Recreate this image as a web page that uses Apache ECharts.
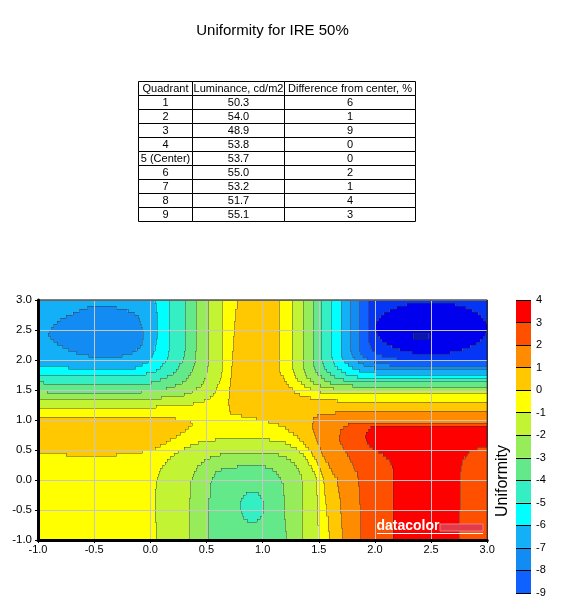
<!DOCTYPE html>
<html>
<head>
<meta charset="utf-8">
<title>Uniformity for IRE 50%</title>
<script src="https://cdn.jsdelivr.net/npm/echarts@6/dist/echarts.min.js"></script>
<style>
  html, body { margin: 0; padding: 0; background: #fff; }
  #chart { width: 570px; height: 601px; }
</style>
</head>
<body>
<div id="chart"></div>
<script>
// table above the map
const quadrants = ['1', '2', '3', '4', '5 (Center)', '6', '7', '8', '9']
const luminance = [50.3, 54.0, 48.9, 53.8, 53.7, 55.0, 53.2, 51.7, 55.1]
const diffFromCenter = [6, 1, 9, 0, 0, 2, 1, 4, 3]
const tableHead = ['Quadrant', 'Luminance, cd/m2', 'Difference from center, %']

// contour levels (each band is [level, level + 1)) and the levels shown on the colour bar
const levels = [-12, -11, -10, -9, -8, -7, -6, -5, -4, -3, -2, -1, 0, 1, 2, 3]
const levelColors = ['#0a16b0', '#0000ee', '#0536f5', '#0f62ff', '#128cf2', '#14b0f7', '#00ffff', '#35efc4',
  '#63e98a', '#97ec5a', '#c3f434', '#ffff00', '#ffc800', '#ff8c00', '#ff5000', '#ff0000']
const barLevels = [-9, -8, -7, -6, -5, -4, -3, -2, -1, 0, 1, 2, 3]

// uniformity map, one strip every 0.05 in y:
// [y, [level, x where it changes, level, x, ..., level]]  (runs go from x = -1 to x = 3)
const rows = [
  [2.975, [-7, 0.04, -6, 0.17, -5, 0.31, -4, 0.41, -3, 0.52, -2, 0.64, -1, 0.77, 0, 1.15, -1, 1.26, -2, 1.36, -3, 1.45, -4, 1.52, -5, 1.61, -6, 1.70, -7, 1.78, -8, 1.86, -9, 1.94, -10]],
  [2.925, [-7, 0.05, -6, 0.17, -5, 0.31, -4, 0.41, -3, 0.52, -2, 0.64, -1, 0.77, 0, 1.15, -1, 1.26, -2, 1.36, -3, 1.45, -4, 1.52, -5, 1.61, -6, 1.70, -7, 1.78, -8, 1.86, -9, 1.94, -10, 2.28, -11, 2.72, -10]],
  [2.875, [-7, -0.56, -8, -0.30, -7, 0.05, -6, 0.17, -5, 0.31, -4, 0.41, -3, 0.52, -2, 0.64, -1, 0.77, 0, 1.15, -1, 1.26, -2, 1.36, -3, 1.45, -4, 1.52, -5, 1.61, -6, 1.70, -7, 1.78, -8, 1.86, -9, 1.94, -10, 2.19, -11, 2.81, -10]],
  [2.825, [-7, -0.63, -8, -0.20, -7, 0.05, -6, 0.17, -5, 0.31, -4, 0.41, -3, 0.52, -2, 0.64, -1, 0.76, 0, 1.15, -1, 1.26, -2, 1.36, -3, 1.45, -4, 1.52, -5, 1.61, -6, 1.70, -7, 1.78, -8, 1.86, -9, 1.94, -10, 2.13, -11, 2.87, -10]],
  [2.775, [-7, -0.69, -8, -0.14, -7, 0.06, -6, 0.17, -5, 0.31, -4, 0.41, -3, 0.52, -2, 0.64, -1, 0.76, 0, 1.15, -1, 1.26, -2, 1.36, -3, 1.45, -4, 1.52, -5, 1.61, -6, 1.70, -7, 1.78, -8, 1.86, -9, 1.94, -10, 2.08, -11, 2.92, -10]],
  [2.725, [-7, -0.75, -8, -0.11, -7, 0.06, -6, 0.17, -5, 0.31, -4, 0.41, -3, 0.52, -2, 0.64, -1, 0.76, 0, 1.15, -1, 1.26, -2, 1.36, -3, 1.45, -4, 1.52, -5, 1.61, -6, 1.70, -7, 1.78, -8, 1.86, -9, 1.94, -10, 2.05, -11, 2.95, -10]],
  [2.675, [-7, -0.80, -8, -0.10, -7, 0.06, -6, 0.17, -5, 0.31, -4, 0.41, -3, 0.52, -2, 0.64, -1, 0.76, 0, 1.15, -1, 1.26, -2, 1.36, -3, 1.45, -4, 1.52, -5, 1.61, -6, 1.70, -7, 1.78, -8, 1.86, -9, 1.94, -10, 2.03, -11, 2.97, -10]],
  [2.625, [-7, -0.83, -8, -0.09, -7, 0.06, -6, 0.17, -5, 0.31, -4, 0.41, -3, 0.52, -2, 0.64, -1, 0.75, 0, 1.15, -1, 1.26, -2, 1.36, -3, 1.45, -4, 1.52, -5, 1.61, -6, 1.70, -7, 1.78, -8, 1.86, -9, 1.94, -10, 2.01, -11, 2.99, -10]],
  [2.575, [-7, -0.86, -8, -0.08, -7, 0.06, -6, 0.17, -5, 0.31, -4, 0.41, -3, 0.52, -2, 0.64, -1, 0.75, 0, 1.15, -1, 1.26, -2, 1.36, -3, 1.45, -4, 1.52, -5, 1.61, -6, 1.70, -7, 1.78, -8, 1.86, -9, 1.94, -10, 2.00, -11]],
  [2.525, [-7, -0.88, -8, -0.07, -7, 0.06, -6, 0.17, -5, 0.31, -4, 0.41, -3, 0.52, -2, 0.64, -1, 0.75, 0, 1.15, -1, 1.26, -2, 1.36, -3, 1.45, -4, 1.52, -5, 1.61, -6, 1.70, -7, 1.78, -8, 1.86, -9, 1.94, -10, 2.00, -11]],
  [2.475, [-7, -0.90, -8, -0.06, -7, 0.06, -6, 0.17, -5, 0.31, -4, 0.41, -3, 0.52, -2, 0.64, -1, 0.75, 0, 1.15, -1, 1.26, -2, 1.36, -3, 1.45, -4, 1.52, -5, 1.61, -6, 1.70, -7, 1.78, -8, 1.86, -9, 1.94, -10, 2.01, -11, 2.99, -10]],
  [2.425, [-7, -0.91, -8, -0.06, -7, 0.06, -6, 0.17, -5, 0.31, -4, 0.41, -3, 0.52, -2, 0.64, -1, 0.75, 0, 1.15, -1, 1.26, -2, 1.36, -3, 1.45, -4, 1.52, -5, 1.61, -6, 1.70, -7, 1.78, -8, 1.86, -9, 1.94, -10, 2.02, -11, 2.34, -12, 2.48, -11, 2.98, -10]],
  [2.375, [-7, -0.89, -8, -0.06, -7, 0.06, -6, 0.17, -5, 0.31, -4, 0.41, -3, 0.52, -2, 0.64, -1, 0.74, 0, 1.15, -1, 1.26, -2, 1.36, -3, 1.45, -4, 1.52, -5, 1.61, -6, 1.70, -7, 1.78, -8, 1.86, -9, 1.94, -10, 2.04, -11, 2.34, -12, 2.48, -11, 2.97, -10]],
  [2.325, [-7, -0.86, -8, -0.07, -7, 0.05, -6, 0.17, -5, 0.31, -4, 0.41, -3, 0.52, -2, 0.64, -1, 0.74, 0, 1.15, -1, 1.26, -2, 1.36, -3, 1.45, -4, 1.52, -5, 1.61, -6, 1.70, -7, 1.78, -8, 1.86, -9, 1.94, -10, 2.06, -11, 2.94, -10]],
  [2.275, [-7, -0.83, -8, -0.07, -7, 0.05, -6, 0.17, -5, 0.31, -4, 0.41, -3, 0.52, -2, 0.64, -1, 0.74, 0, 1.15, -1, 1.26, -2, 1.36, -3, 1.45, -4, 1.52, -5, 1.61, -6, 1.70, -7, 1.78, -8, 1.86, -9, 1.95, -10, 2.10, -11, 2.90, -10]],
  [2.225, [-7, -0.78, -8, -0.09, -7, 0.04, -6, 0.17, -5, 0.31, -4, 0.41, -3, 0.52, -2, 0.64, -1, 0.74, 0, 1.15, -1, 1.26, -2, 1.36, -3, 1.45, -4, 1.52, -5, 1.61, -6, 1.70, -7, 1.78, -8, 1.86, -9, 1.96, -10, 2.15, -11, 2.85, -10]],
  [2.175, [-7, -0.73, -8, -0.12, -7, 0.04, -6, 0.17, -5, 0.31, -4, 0.41, -3, 0.52, -2, 0.64, -1, 0.74, 0, 1.15, -1, 1.26, -2, 1.36, -3, 1.45, -4, 1.52, -5, 1.61, -6, 1.70, -7, 1.78, -8, 1.86, -9, 1.97, -10, 2.22, -11, 2.78, -10]],
  [2.125, [-7, -0.66, -8, -0.16, -7, 0.03, -6, 0.16, -5, 0.30, -4, 0.40, -3, 0.52, -2, 0.64, -1, 0.73, 0, 1.15, -1, 1.26, -2, 1.36, -3, 1.45, -4, 1.52, -5, 1.61, -6, 1.70, -7, 1.79, -8, 1.87, -9, 2.00, -10, 2.33, -11, 2.67, -10]],
  [2.075, [-7, -0.55, -8, -0.25, -7, 0.02, -6, 0.16, -5, 0.30, -4, 0.40, -3, 0.52, -2, 0.64, -1, 0.73, 0, 1.15, -1, 1.26, -2, 1.36, -3, 1.45, -4, 1.52, -5, 1.61, -6, 1.70, -7, 1.80, -8, 1.89, -9, 2.06, -10]],
  [2.025, [-7, 0.00, -6, 0.15, -5, 0.29, -4, 0.40, -3, 0.52, -2, 0.64, -1, 0.73, 0, 1.15, -1, 1.26, -2, 1.36, -3, 1.45, -4, 1.52, -5, 1.62, -6, 1.71, -7, 1.82, -8, 1.93, -9, 2.19, -10]],
  [1.975, [-7, -0.02, -6, 0.13, -5, 0.28, -4, 0.40, -3, 0.52, -2, 0.64, -1, 0.73, 0, 1.15, -1, 1.26, -2, 1.36, -3, 1.45, -4, 1.53, -5, 1.63, -6, 1.73, -7, 1.85, -8, 1.99, -9]],
  [1.925, [-7, -0.07, -6, 0.11, -5, 0.26, -4, 0.39, -3, 0.52, -2, 0.64, -1, 0.73, 0, 1.15, -1, 1.26, -2, 1.36, -3, 1.45, -4, 1.54, -5, 1.64, -6, 1.76, -7, 1.90, -8, 2.13, -9]],
  [1.875, [-6, -0.73, -7, -0.13, -6, 0.09, -5, 0.25, -4, 0.38, -3, 0.51, -2, 0.64, -1, 0.72, 0, 1.15, -1, 1.26, -2, 1.36, -3, 1.46, -4, 1.55, -5, 1.66, -6, 1.80, -7, 1.99, -8]],
  [1.825, [-6, 0.05, -5, 0.23, -4, 0.37, -3, 0.51, -2, 0.64, -1, 0.72, 0, 1.15, -1, 1.27, -2, 1.37, -3, 1.47, -4, 1.57, -5, 1.70, -6, 1.86, -7]],
  [1.775, [-6, -0.04, -5, 0.20, -4, 0.36, -3, 0.50, -2, 0.63, -1, 0.72, 0, 1.16, -1, 1.28, -2, 1.38, -3, 1.49, -4, 1.60, -5, 1.74, -6, 2.00, -7]],
  [1.725, [-5, 0.15, -4, 0.34, -3, 0.50, -2, 0.63, -1, 0.72, 0, 1.18, -1, 1.29, -2, 1.39, -3, 1.52, -4, 1.64, -5, 1.84, -6]],
  [1.675, [-5, 0.09, -4, 0.32, -3, 0.48, -2, 0.62, -1, 0.71, 0, 1.19, -1, 1.31, -2, 1.42, -3, 1.55, -4, 1.72, -5]],
  [1.625, [-4, -0.95, -5, 0.01, -4, 0.28, -3, 0.47, -2, 0.61, -1, 0.71, 0, 1.21, -1, 1.34, -2, 1.45, -3, 1.60, -4]],
  [1.575, [-4, 0.22, -3, 0.45, -2, 0.60, -1, 0.71, 0, 1.23, -1, 1.37, -2, 1.51, -3, 1.80, -4]],
  [1.525, [-4, 0.14, -3, 0.41, -2, 0.59, -1, 0.70, 0, 1.26, -1, 1.42, -2, 1.63, -3]],
  [1.475, [-3, -0.92, -4, -0.08, -3, 0.37, -2, 0.58, -1, 0.70, 0, 1.28, -1, 1.51, -2]],
  [1.425, [-3, 0.30, -2, 0.56, -1, 0.70, 0, 1.33, -1]],
  [1.375, [-3, 0.10, -2, 0.53, -1, 0.70, 0, 1.42, -1]],
  [1.325, [-2, 0.48, -1, 0.69, 0, 1.66, -1]],
  [1.275, [-2, 0.38, -1, 0.69, 0]],
  [1.225, [-2, 0.05, -1, 0.70, 0]],
  [1.175, [-1, 0.70, 0]],
  [1.125, [-1, 0.71, 0, 1.65, 1]],
  [1.075, [-1, 0.81, 0, 1.49, 1]],
  [1.025, [0, 0.22, -1, 0.94, 0, 1.45, 1]],
  [0.975, [0, 0.36, -1, 1.05, 0, 1.45, 1]],
  [0.925, [0, 0.37, -1, 1.14, 0, 1.44, 1, 1.76, 2]],
  [0.875, [0, 0.34, -1, 1.20, 0, 1.44, 1, 1.72, 2, 1.96, 3]],
  [0.825, [0, 0.31, -1, 1.23, 0, 1.45, 1, 1.69, 2, 1.94, 3]],
  [0.775, [0, 0.27, -1, 1.27, 0, 1.46, 1, 1.69, 2, 1.92, 3]],
  [0.725, [0, 0.23, -1, 1.31, 0, 1.47, 1, 1.68, 2, 1.91, 3]],
  [0.675, [0, 0.18, -1, 0.58, -2, 1.06, -1, 1.33, 0, 1.48, 1, 1.68, 2, 1.92, 3]],
  [0.625, [0, 0.14, -1, 0.43, -2, 1.20, -1, 1.36, 0, 1.49, 1, 1.69, 2, 1.93, 3]],
  [0.575, [0, 0.09, -1, 0.36, -2, 1.25, -1, 1.38, 0, 1.50, 1, 1.71, 2, 1.95, 3]],
  [0.525, [0, 0.04, -1, 0.30, -2, 1.30, -1, 1.41, 0, 1.51, 1, 1.72, 2, 1.98, 3, 2.91, 2]],
  [0.475, [0, -0.07, -1, 0.25, -2, 1.33, -1, 1.43, 0, 1.52, 1, 1.74, 2, 2.03, 3, 2.84, 2]],
  [0.425, [-1, -0.75, 0, -0.30, -1, 0.21, -2, 0.62, -3, 1.14, -2, 1.36, -1, 1.44, 0, 1.53, 1, 1.75, 2, 2.07, 3, 2.82, 2]],
  [0.375, [-1, 0.18, -2, 0.53, -3, 1.21, -2, 1.38, -1, 1.46, 0, 1.55, 1, 1.77, 2, 2.10, 3, 2.80, 2]],
  [0.325, [-1, 0.15, -2, 0.48, -3, 1.25, -2, 1.40, -1, 1.48, 0, 1.56, 1, 1.78, 2, 2.13, 3, 2.78, 2]],
  [0.275, [-1, 0.13, -2, 0.45, -3, 1.28, -2, 1.41, -1, 1.49, 0, 1.58, 1, 1.80, 2, 2.14, 3, 2.78, 2]],
  [0.225, [-1, 0.11, -2, 0.42, -3, 0.77, -4, 1.02, -3, 1.30, -2, 1.43, -1, 1.50, 0, 1.59, 1, 1.81, 2, 2.15, 3, 2.77, 2]],
  [0.175, [-1, 0.09, -2, 0.41, -3, 0.63, -4, 1.09, -3, 1.32, -2, 1.44, -1, 1.51, 0, 1.61, 1, 1.82, 2, 2.16, 3, 2.77, 2]],
  [0.125, [-1, 0.08, -2, 0.39, -3, 0.58, -4, 1.12, -3, 1.33, -2, 1.46, -1, 1.52, 0, 1.62, 1, 1.84, 2, 2.16, 3, 2.76, 2]],
  [0.075, [-1, 0.07, -2, 0.38, -3, 0.57, -4, 1.14, -3, 1.34, -2, 1.47, -1, 1.53, 0, 1.64, 1, 1.84, 2, 2.16, 3, 2.76, 2]],
  [0.025, [-1, 0.06, -2, 0.37, -3, 0.55, -4, 1.16, -3, 1.34, -2, 1.48, -1, 1.54, 0, 1.66, 1, 1.85, 2, 2.16, 3, 2.76, 2]],
  [-0.025, [-1, 0.05, -2, 0.36, -3, 0.54, -4, 1.17, -3, 1.35, -2, 1.48, -1, 1.54, 0, 1.66, 1, 1.85, 2, 2.16, 3, 2.76, 2]],
  [-0.075, [-1, 0.05, -2, 0.36, -3, 0.53, -4, 1.18, -3, 1.35, -2, 1.48, -1, 1.55, 0, 1.66, 1, 1.85, 2, 2.16, 3, 2.76, 2]],
  [-0.125, [-1, 0.05, -2, 0.36, -3, 0.53, -4, 1.18, -3, 1.35, -2, 1.48, -1, 1.55, 0, 1.67, 1, 1.86, 2, 2.16, 3, 2.76, 2]],
  [-0.175, [-1, 0.04, -2, 0.36, -3, 0.53, -4, 1.18, -3, 1.35, -2, 1.48, -1, 1.55, 0, 1.67, 1, 1.86, 2, 2.16, 3, 2.76, 2]],
  [-0.225, [-1, 0.04, -2, 0.36, -3, 0.53, -4, 0.85, -5, 0.96, -4, 1.18, -3, 1.35, -2, 1.48, -1, 1.55, 0, 1.68, 1, 1.86, 2, 2.16, 3, 2.76, 2]],
  [-0.275, [-1, 0.04, -2, 0.36, -3, 0.53, -4, 0.83, -5, 0.98, -4, 1.19, -3, 1.35, -2, 1.49, -1, 1.56, 0, 1.68, 1, 1.86, 2, 2.16, 3, 2.76, 2]],
  [-0.325, [-1, 0.04, -2, 0.35, -3, 0.52, -4, 0.81, -5, 1.00, -4, 1.19, -3, 1.35, -2, 1.49, -1, 1.56, 0, 1.69, 1, 1.86, 2, 2.16, 3, 2.76, 2]],
  [-0.375, [-1, 0.04, -2, 0.35, -3, 0.52, -4, 0.80, -5, 1.01, -4, 1.19, -3, 1.35, -2, 1.49, -1, 1.56, 0, 1.69, 1, 1.86, 2, 2.16, 3, 2.76, 2]],
  [-0.425, [-1, 0.04, -2, 0.35, -3, 0.52, -4, 0.80, -5, 1.01, -4, 1.19, -3, 1.35, -2, 1.49, -1, 1.57, 0, 1.69, 1, 1.87, 2, 2.16, 3, 2.76, 2]],
  [-0.475, [-1, 0.04, -2, 0.35, -3, 0.52, -4, 0.80, -5, 1.01, -4, 1.19, -3, 1.35, -2, 1.49, -1, 1.57, 0, 1.69, 1, 1.87, 2, 2.16, 3, 2.76, 2]],
  [-0.525, [-1, 0.04, -2, 0.35, -3, 0.52, -4, 0.81, -5, 1.01, -4, 1.19, -3, 1.35, -2, 1.49, -1, 1.57, 0, 1.69, 1, 1.87, 2, 2.16, 3, 2.75, 2]],
  [-0.575, [-1, 0.04, -2, 0.35, -3, 0.52, -4, 0.82, -5, 1.00, -4, 1.19, -3, 1.35, -2, 1.49, -1, 1.57, 0, 1.70, 1, 1.87, 2, 2.16, 3, 2.75, 2]],
  [-0.625, [-1, 0.04, -2, 0.35, -3, 0.52, -4, 0.83, -5, 0.98, -4, 1.19, -3, 1.35, -2, 1.49, -1, 1.58, 0, 1.70, 1, 1.87, 2, 2.16, 3, 2.75, 2]],
  [-0.675, [-1, 0.04, -2, 0.35, -3, 0.52, -4, 0.86, -5, 0.95, -4, 1.20, -3, 1.35, -2, 1.49, -1, 1.58, 0, 1.70, 1, 1.87, 2, 2.16, 3, 2.75, 2]],
  [-0.725, [-1, 0.05, -2, 0.35, -3, 0.52, -4, 1.20, -3, 1.35, -2, 1.49, -1, 1.58, 0, 1.70, 1, 1.87, 2, 2.16, 3, 2.75, 2]],
  [-0.775, [-1, 0.05, -2, 0.35, -3, 0.52, -4, 1.20, -3, 1.35, -2, 1.50, -1, 1.58, 0, 1.70, 1, 1.87, 2, 2.16, 3, 2.75, 2]],
  [-0.825, [-1, 0.05, -2, 0.35, -3, 0.52, -4, 1.20, -3, 1.35, -2, 1.50, -1, 1.58, 0, 1.71, 1, 1.87, 2, 2.16, 3, 2.75, 2]],
  [-0.875, [-1, 0.05, -2, 0.35, -3, 0.52, -4, 1.21, -3, 1.35, -2, 1.50, -1, 1.59, 0, 1.71, 1, 1.87, 2, 2.16, 3, 2.75, 2]],
  [-0.925, [-1, 0.05, -2, 0.35, -3, 0.52, -4, 1.21, -3, 1.35, -2, 1.50, -1, 1.59, 0, 1.71, 1, 1.87, 2, 2.16, 3, 2.75, 2]],
  [-0.975, [-1, 0.05, -2, 0.35, -3, 0.52, -4, 1.21, -3, 1.35, -2, 1.50, -1, 1.59, 0, 1.71, 1, 1.87, 2, 2.16, 3, 2.75, 2]]
]

const font = '"Liberation Sans", Arial, sans-serif'
const stripHalf = 0.025

// turn every row into cells [x0, x1, y, level]
let cells = []
rows.forEach(([y, runs]) => {
    let x0 = -1
    for (let i = 0; i < runs.length; i += 2) {
        let x1 = i + 1 < runs.length ? runs[i + 1] : 3
        cells.push([x0, x1, y, runs[i]])
        x0 = x1
    }
})

// level of a row at x
function levelAt(runs, x) {
    for (let i = 1; i < runs.length; i += 2) {
        if (x < runs[i]) return runs[i - 1]
    }
    return runs[runs.length - 1]
}

// contour outlines: edges between cells of different level
let edges = []
rows.forEach(([y, runs], r) => {
    for (let i = 1; i < runs.length; i += 2) {
        edges.push({ coords: [[runs[i], y + stripHalf], [runs[i], y - stripHalf]] })
    }
    if (r + 1 < rows.length) {
        let next = rows[r + 1][1]
        let xs = [-1, 3]
        for (let i = 1; i < runs.length; i += 2) xs.push(runs[i])
        for (let i = 1; i < next.length; i += 2) xs.push(next[i])
        xs.sort((a, b) => a - b)
        let yb = y - stripHalf
        let start = null
        for (let k = 0; k < xs.length - 1; k++) {
            let mid = (xs[k] + xs[k + 1]) / 2
            let diff = xs[k + 1] > xs[k] && levelAt(runs, mid) !== levelAt(next, mid)
            if (diff && start === null) start = xs[k]
            if (!diff && start !== null && xs[k + 1] > xs[k]) {
                edges.push({ coords: [[start, yb], [xs[k], yb]] })
                start = null
            }
        }
        if (start !== null) edges.push({ coords: [[start, yb], [3, yb]] })
    }
})

// colour bar cells
let barCells = barLevels.map(l => [0, 1, l + 0.5, l])

// table drawn with graphic elements
function buildTable() {
    const top = 81.5, rowH = 14
    const colEdges = [138.5, 192.5, 284.5, 415.5]
    let body = quadrants.map((q, i) => [q, luminance[i].toFixed(1), String(diffFromCenter[i])])
    let all = [tableHead].concat(body)
    let els = []
    all.forEach((r, ri) => {
        r.forEach((txt, ci) => {
            let x0 = colEdges[ci], x1 = colEdges[ci + 1]
            let y0 = top + ri * rowH
            els.push({
                type: 'rect',
                shape: { x: x0, y: y0, width: x1 - x0, height: rowH },
                style: { fill: '#fff', stroke: '#000', lineWidth: 1 }
            })
            els.push({
                type: 'text',
                style: {
                    text: txt, x: (x0 + x1) / 2, y: y0 + rowH / 2 + 0.5,
                    font: '11px ' + font, fill: '#000',
                    align: 'center', verticalAlign: 'middle',
                    textAlign: 'center', textVerticalAlign: 'middle'
                }
            })
        })
    })
    return { type: 'group', children: els }
}

let myChart = echarts.init(document.querySelector('#chart'))

const option = {
    animation: false,
    textStyle: { fontFamily: font },
    grid: [
        { left: 38, right: 82.75, top: 300, bottom: 61, show: true, borderColor: '#000', borderWidth: 1, backgroundColor: 'transparent', z: 4 },
        { left: 516, width: 15, top: 300, height: 293 }
    ],
    xAxis: [
        {
            type: 'value', gridIndex: 0, min: -1, max: 3, interval: 0.5, z: 3,
            axisLine: { show: true, onZero: false, lineStyle: { color: '#000', width: 3 } },
            axisTick: { show: true, length: 3, lineStyle: { color: '#000' } },
            axisLabel: { color: '#000', fontSize: 11, margin: 4, formatter: v => v.toFixed(1) },
            splitLine: { show: true, lineStyle: { color: '#c6c6c6', width: 1 } }
        },
        { type: 'value', gridIndex: 1, min: 0, max: 1, show: false }
    ],
    yAxis: [
        {
            type: 'value', gridIndex: 0, min: -1, max: 3, interval: 0.5, z: 3,
            axisLine: { show: true, onZero: false, lineStyle: { color: '#000', width: 3 } },
            axisTick: { show: true, length: 3, lineStyle: { color: '#000' } },
            axisLabel: { color: '#000', fontSize: 11.5, margin: 6, formatter: v => v.toFixed(1) },
            splitLine: { show: true, lineStyle: { color: '#c6c6c6', width: 1 } }
        },
        {
            type: 'value', gridIndex: 1, min: -9, max: 4, interval: 1, position: 'right', z: 3,
            axisLine: { show: false },
            axisTick: { show: true, length: 3, lineStyle: { color: '#000' } },
            axisLabel: { color: '#000', fontSize: 11, margin: 5 },
            splitLine: { show: true, lineStyle: { color: '#000', width: 1 } }
        }
    ],
    visualMap: {
        type: 'piecewise',
        show: false,
        dimension: 3,
        seriesIndex: [0, 1],
        pieces: levels.map((l, i) => ({ gte: l, lt: l + 1, color: levelColors[i] }))
    },
    series: [
        {
            name: 'Uniformity',
            type: 'custom',
            xAxisIndex: 0, yAxisIndex: 0,
            dimensions: ['x0', 'x1', 'y', 'level'],
            encode: { x: [0, 1], y: 2 },
            data: cells,
            silent: true,
            progressive: 0,
            renderItem: function (params, api) {
                let a = api.coord([api.value(0), api.value(2) + stripHalf])
                let b = api.coord([api.value(1), api.value(2) - stripHalf])
                return {
                    type: 'rect',
                    shape: { x: a[0], y: a[1], width: b[0] - a[0], height: b[1] - a[1] },
                    style: { fill: api.visual('color') }
                }
            }
        },
        {
            name: 'scale',
            type: 'custom',
            xAxisIndex: 1, yAxisIndex: 1,
            dimensions: ['x0', 'x1', 'y', 'level'],
            encode: { x: [0, 1], y: 2 },
            data: barCells,
            silent: true,
            renderItem: function (params, api) {
                let a = api.coord([0, api.value(3) + 1])
                let b = api.coord([1, api.value(3)])
                return {
                    type: 'rect',
                    shape: { x: a[0], y: a[1], width: b[0] - a[0], height: b[1] - a[1] },
                    style: { fill: api.visual('color') }
                }
            }
        },
        {
            // thin contour lines between bands
            name: 'contours',
            type: 'lines',
            coordinateSystem: 'cartesian2d',
            xAxisIndex: 0, yAxisIndex: 0,
            data: edges,
            silent: true,
            progressive: 0,
            z: 2.5,
            lineStyle: { color: '#303030', width: 0.8, opacity: 0.55 }
        }
    ],
    graphic: [
        {
            type: 'text',
            style: {
                text: 'Uniformity for IRE 50%', x: 272.5, y: 31,
                font: '15px ' + font, fill: '#000',
                align: 'center', verticalAlign: 'middle',
                textAlign: 'center', textVerticalAlign: 'middle'
            }
        },
        buildTable(),
        {
            type: 'text',
            x: 503, y: 481, rotation: Math.PI / 2,
            style: {
                text: 'Uniformity', x: 0, y: 0,
                font: '16px ' + font, fill: '#000',
                align: 'center', verticalAlign: 'middle',
                textAlign: 'center', textVerticalAlign: 'middle'
            }
        },
        {
            type: 'text',
            z: 100,
            style: {
                text: 'datacolor', x: 376.5, y: 526.5,
                font: 'bold 14px ' + font, fill: '#fff',
                align: 'left', verticalAlign: 'middle',
                textAlign: 'left', textVerticalAlign: 'middle'
            }
        },
        {
            type: 'rect',
            z: 100,
            shape: { x: 440, y: 524, width: 43, height: 7 },
            style: { fill: '#e23a48', stroke: '#f07a86', lineWidth: 1 }
        },
        {
            type: 'line',
            z: 100,
            shape: { x1: 377, y1: 533.5, x2: 483, y2: 533.5 },
            style: { stroke: '#fff', lineWidth: 1.2 }
        }
    ]
}

myChart.setOption(option)
</script>
</body>
</html>
